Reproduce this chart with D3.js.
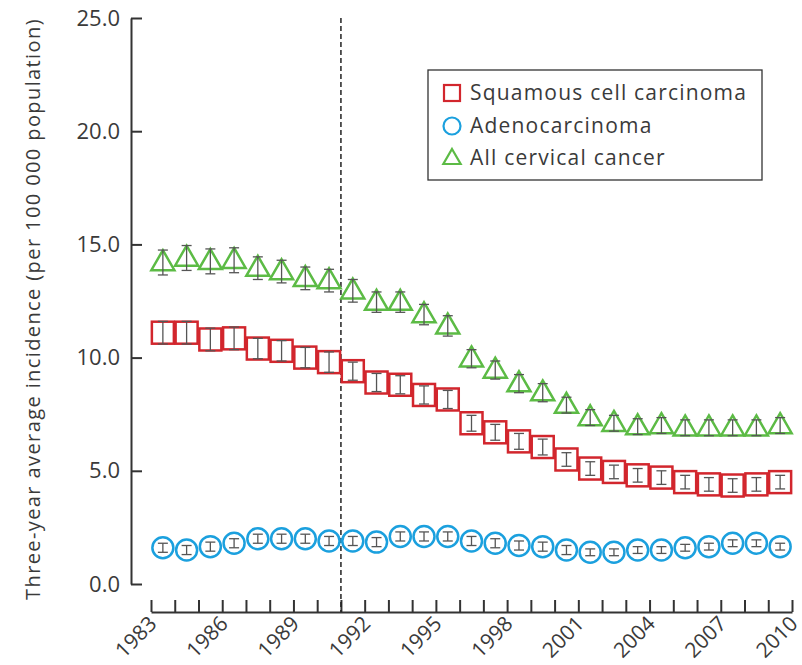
<!DOCTYPE html>
<html>
<head>
<meta charset="utf-8">
<script src="https://cdn.jsdelivr.net/npm/d3@7"></script>
<style>
  body { margin: 0; background: #fff; }
  text { font-family: "Open Sans", sans-serif; fill: #3a3a3a; }
</style>
</head>
<body>
<svg id="chart" width="802" height="665"></svg>
<script>
// data: three-year average incidence per 100 000, one value per year band 1983..2009
const years = d3.range(1983, 2010);
const squamous = [11.1, 11.1, 10.8, 10.85, 10.4, 10.3, 10.0, 9.8, 9.4, 8.9, 8.8, 8.35, 8.15, 7.1, 6.7, 6.3, 6.05, 5.5, 5.1, 4.95, 4.8, 4.7, 4.5, 4.4, 4.35, 4.4, 4.5];
const squamousErr = [0.5, 0.5, 0.5, 0.5, 0.45, 0.45, 0.45, 0.45, 0.4, 0.4, 0.4, 0.4, 0.4, 0.35, 0.35, 0.35, 0.35, 0.3, 0.3, 0.3, 0.3, 0.3, 0.3, 0.3, 0.3, 0.3, 0.3];
const adeno = [1.6, 1.5, 1.65, 1.8, 2.0, 2.0, 2.0, 1.9, 1.9, 1.85, 2.1, 2.1, 2.1, 1.9, 1.8, 1.7, 1.65, 1.5, 1.4, 1.4, 1.5, 1.5, 1.6, 1.65, 1.8, 1.8, 1.65];
const adenoErr = [0.2, 0.2, 0.2, 0.2, 0.2, 0.2, 0.2, 0.2, 0.2, 0.2, 0.2, 0.2, 0.2, 0.2, 0.2, 0.2, 0.2, 0.2, 0.15, 0.15, 0.15, 0.15, 0.15, 0.15, 0.15, 0.15, 0.15];
const allCervical = [14.2, 14.4, 14.25, 14.3, 13.95, 13.8, 13.5, 13.4, 12.95, 12.45, 12.45, 11.9, 11.4, 9.95, 9.45, 8.85, 8.45, 7.9, 7.35, 7.1, 6.95, 7.0, 6.9, 6.9, 6.9, 6.9, 7.0];
const allErr = [0.55, 0.55, 0.55, 0.55, 0.5, 0.5, 0.5, 0.5, 0.5, 0.45, 0.45, 0.45, 0.45, 0.4, 0.4, 0.4, 0.4, 0.35, 0.35, 0.35, 0.35, 0.35, 0.35, 0.35, 0.35, 0.35, 0.35];
const yTicks = [0, 5, 10, 15, 20, 25];
const xLabelYears = [1983, 1986, 1989, 1992, 1995, 1998, 2001, 2004, 2007, 2010];
const cutYear = 1991;
const seriesNames = ["Squamous cell carcinoma", "Adenocarcinoma", "All cervical cancer"];

const colors = { sq: "#d2262d", ad: "#1ba0de", all: "#5cbb45" };

const svg = d3.select("#chart");

const x = d3.scaleLinear().domain([1983, 2010]).range([151, 792]);
const y = d3.scaleLinear().domain([0, 25]).range([584, 18]);

// y axis, ticks pointing inward
const yAxis = svg.append("g")
  .attr("transform", "translate(131,0)")
  .call(d3.axisLeft(y).tickValues(yTicks).tickFormat(d3.format(".1f"))
    .tickSizeInner(-11).tickSizeOuter(0).tickPadding(11));
yAxis.select(".domain").attr("stroke", "#333").attr("stroke-width", 2);
yAxis.selectAll(".tick line").attr("stroke", "#333").attr("stroke-width", 2);
yAxis.selectAll(".tick text").style("font-size", "22px").attr("fill", "#3a3a3a")
  .style("font-family", "'Open Sans', sans-serif");

// x axis, a tick every year, labels every third year
const xAxis = svg.append("g")
  .attr("transform", "translate(0,612)")
  .call(d3.axisBottom(x).tickValues(d3.range(1983, 2011)).tickFormat("")
    .tickSizeInner(-12).tickSizeOuter(0));
xAxis.select(".domain").attr("stroke", "#333").attr("stroke-width", 2);
xAxis.selectAll(".tick line").attr("stroke", "#333").attr("stroke-width", 2);

svg.append("g").selectAll("text")
  .data(xLabelYears)
  .join("text")
  .attr("transform", d => `translate(${x(d) + 7},${625}) rotate(-45)`)
  .attr("text-anchor", "end")
  .style("font-size", "21px")
  .text(d => d);

// y axis title
svg.append("text")
  .attr("transform", "translate(40,309) rotate(-90)")
  .attr("text-anchor", "middle")
  .style("font-size", "20px")
  .style("letter-spacing", "1.4px")
  .text("Three-year average incidence (per 100 000 population)");

// dashed reference line
svg.append("line")
  .attr("x1", x(cutYear)).attr("x2", x(cutYear))
  .attr("y1", y(25)).attr("y2", 612)
  .attr("stroke", "#222").attr("stroke-width", 1.5)
  .attr("stroke-dasharray", "5,3");

const cx = d => x(d + 0.5);

function errorBars(vals, errs, g) {
  const cap = 5;
  vals.forEach((v, i) => {
    const xc = cx(years[i]);
    const y0 = y(v - errs[i]), y1 = y(v + errs[i]);
    g.append("line").attr("x1", xc).attr("x2", xc).attr("y1", y0).attr("y2", y1);
    g.append("line").attr("x1", xc - cap).attr("x2", xc + cap).attr("y1", y0).attr("y2", y0);
    g.append("line").attr("x1", xc - cap).attr("x2", xc + cap).attr("y1", y1).attr("y2", y1);
  });
  g.attr("stroke", "#555").attr("stroke-width", 1.3);
}

// squares
svg.append("g").selectAll("rect")
  .data(squamous)
  .join("rect")
  .attr("x", (d, i) => cx(years[i]) - 11)
  .attr("y", d => y(d) - 11)
  .attr("width", 22).attr("height", 22)
  .attr("fill", "#fff").attr("stroke", colors.sq).attr("stroke-width", 2.5);
errorBars(squamous, squamousErr, svg.append("g"));

// circles
svg.append("g").selectAll("circle")
  .data(adeno)
  .join("circle")
  .attr("cx", (d, i) => cx(years[i]))
  .attr("cy", d => y(d))
  .attr("r", 10.5)
  .attr("fill", "#fff").attr("stroke", colors.ad).attr("stroke-width", 2.5);
errorBars(adeno, adenoErr, svg.append("g"));

// triangles
const tri = d3.symbol().type(d3.symbolTriangle).size(230);
svg.append("g").selectAll("path")
  .data(allCervical)
  .join("path")
  .attr("d", tri)
  .attr("transform", (d, i) => `translate(${cx(years[i])},${y(d) + 1})`)
  .attr("fill", "#fff").attr("stroke", colors.all).attr("stroke-width", 2.5);
errorBars(allCervical, allErr, svg.append("g"));

// legend
const lg = svg.append("g");
lg.append("rect")
  .attr("x", 428).attr("y", 70).attr("width", 334).attr("height", 110)
  .attr("fill", "#fff").attr("stroke", "#333").attr("stroke-width", 1.3);
const rows = [93, 126, 158];
lg.append("rect").attr("x", 444).attr("y", rows[0] - 8).attr("width", 16).attr("height", 16)
  .attr("fill", "none").attr("stroke", colors.sq).attr("stroke-width", 2.2);
lg.append("circle").attr("cx", 452).attr("cy", rows[1]).attr("r", 8.5)
  .attr("fill", "none").attr("stroke", colors.ad).attr("stroke-width", 2.2);
lg.append("path").attr("d", d3.symbol().type(d3.symbolTriangle).size(130))
  .attr("transform", `translate(452,${rows[2] + 1})`)
  .attr("fill", "none").attr("stroke", colors.all).attr("stroke-width", 2.2);
lg.selectAll("text.leg")
  .data(seriesNames)
  .join("text")
  .attr("class", "leg")
  .attr("x", 470)
  .attr("y", (d, i) => rows[i])
  .attr("dy", "0.35em")
  .style("font-size", "21px")
  .style("letter-spacing", "1.2px")
  .text(d => d);
</script>
</body>
</html>
